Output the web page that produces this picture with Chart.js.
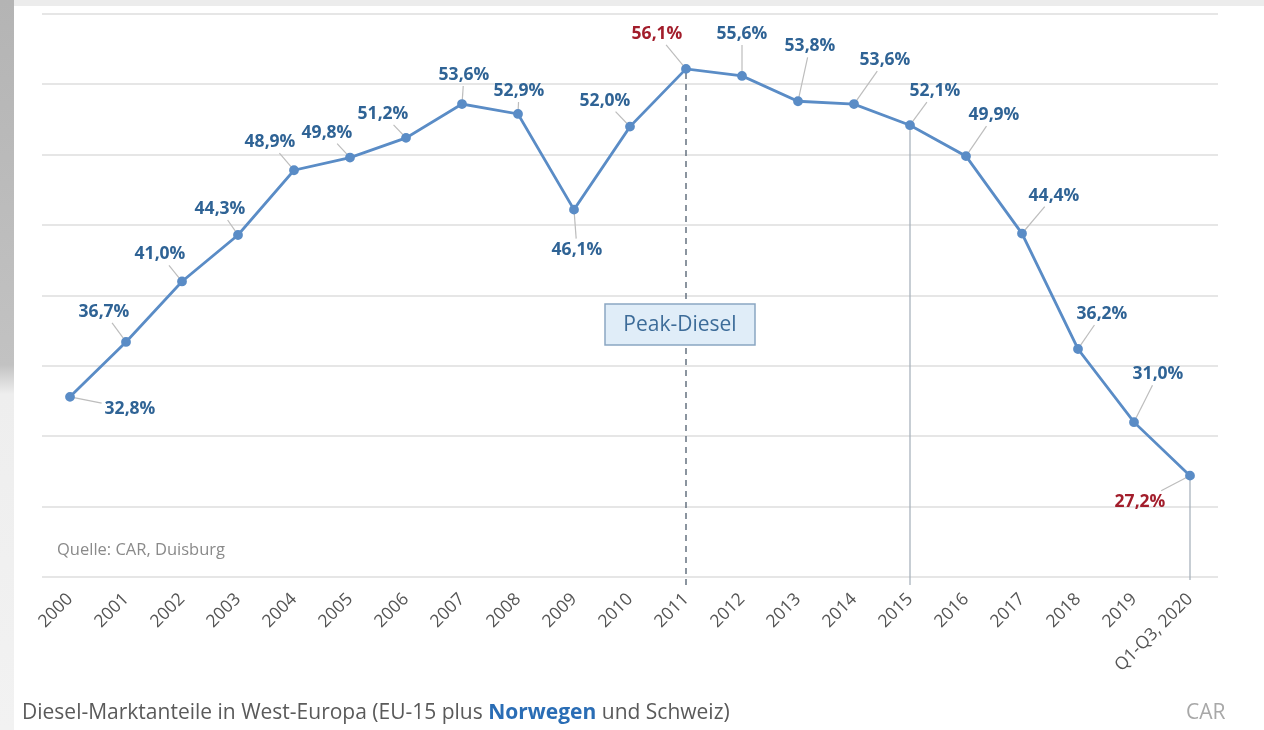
<!DOCTYPE html>
<html>
<head>
<meta charset="utf-8">
<script src="https://cdn.jsdelivr.net/npm/chart.js@4.4.1/dist/chart.umd.min.js"></script>
<style>
  html, body { margin: 0; padding: 0; background: #fff; }
  body { width: 1264px; height: 730px; position: relative; overflow: hidden; font-family: "Open Sans", sans-serif; }
  #frameTop { position: absolute; left: 0; top: 0; width: 1264px; height: 6px; background: #ececec; }
  #frameLeft { position: absolute; left: 0; top: 0; width: 14px; height: 730px;
    background: linear-gradient(to bottom, #b4b4b4 0%, #c2c2c2 50%, #eeeeee 54%, #f2f2f2 100%); }
  #wrap { position: absolute; left: 0; top: 0; width: 1264px; height: 730px; }
  .quelle { position: absolute; left: 57px; top: 537px; font-size: 16.5px; color: #8a8a8a; }
  .caption { position: absolute; left: 22px; top: 697px; font-size: 21px; color: #5a5a5a; white-space: nowrap; }
  .caption b { color: #2a6db5; font-weight: 700; }
  .car { position: absolute; left: 1186px; top: 697px; font-size: 21px; color: #a8a8a8; }
</style>
</head>
<body>
<div id="frameTop"></div>
<div id="frameLeft"></div>
<div id="wrap"><canvas id="diesel"></canvas></div>
<div class="quelle">Quelle: CAR, Duisburg</div>
<div class="caption">Diesel-Marktanteile in West-Europa (EU-15 plus <b>Norwegen</b> und Schweiz)</div>
<div class="car">CAR</div>

<script>
// Daten
const years = ['2000', '2001', '2002', '2003', '2004', '2005', '2006', '2007', '2008', '2009', '2010',
  '2011', '2012', '2013', '2014', '2015', '2016', '2017', '2018', '2019', 'Q1-Q3, 2020'];
const dieselShare = [32.8, 36.7, 41.0, 44.3, 48.9, 49.8, 51.2, 53.6, 52.9, 46.1, 52.0,
  56.1, 55.6, 53.8, 53.6, 52.1, 49.9, 44.4, 36.2, 31.0, 27.2];
const yTicks = [20, 25, 30, 35, 40, 45, 50, 55, 60];

// Beschriftung (Layout)
const redLabels = [11, 20];
const labelOffsets = [
  [60, 12], [-22, -30], [-22, -27], [-18, -26], [-24, -28], [-23, -25], [-23, -24],
  [2, -29], [1, -23], [3, 40], [-25, -26], [-29, -35], [0, -42], [12, -55], [31, -44],
  [25, -34], [28, -41], [32, -38], [24, -35], [24, -48], [-50, 26]
];

const fmt = v => v.toFixed(1).replace('.', ',') + '%';

const annotations = {
  id: 'annotations',
  beforeDatasetsDraw(chart) {
    const ctx = chart.ctx;
    const meta = chart.getDatasetMeta(0);
    const bottom = chart.chartArea.bottom;
    ctx.save();
    // Peak-Diesel Linie
    const p11 = meta.data[11];
    ctx.strokeStyle = '#6f7b88';
    ctx.lineWidth = 1.6;
    ctx.setLineDash([6, 5]);
    ctx.beginPath();
    ctx.moveTo(p11.x, p11.y + 4);
    ctx.lineTo(p11.x, bottom + 8);
    ctx.stroke();
    ctx.setLineDash([]);
    ctx.strokeStyle = '#a9b3bd';
    ctx.lineWidth = 1.3;
    [15, 20].forEach(i => {
      const p = meta.data[i];
      ctx.beginPath();
      ctx.moveTo(p.x, p.y + 3);
      ctx.lineTo(p.x, bottom + (i === 20 ? 3 : 8));
      ctx.stroke();
    });
    // Box
    const bx = p11.x - 81, by = 304, bw = 150, bh = 41;
    ctx.fillStyle = '#e0edf8';
    ctx.fillRect(bx, by, bw, bh);
    ctx.strokeStyle = '#8aa6c2';
    ctx.lineWidth = 1.5;
    ctx.strokeRect(bx, by, bw, bh);
    ctx.fillStyle = '#3d6c99';
    ctx.font = '21px "Open Sans"';
    ctx.textAlign = 'center';
    ctx.textBaseline = 'middle';
    ctx.fillText('Peak-Diesel', bx + bw / 2, by + bh / 2 + 1);

    // Werte mit Hinweislinien
    ctx.font = 'bold 17.5px "Open Sans"';
    meta.data.forEach((pt, i) => {
      const [dx, dy] = labelOffsets[i];
      const text = fmt(dieselShare[i]);
      const cx = pt.x + dx, cy = pt.y + dy;
      const hw = ctx.measureText(text).width / 2 + 3, hh = 11;
      const t = Math.min(dx ? hw / Math.abs(dx) : 1, dy ? hh / Math.abs(dy) : 1);
      const ex = cx - dx * t, ey = cy - dy * t;
      const len = Math.hypot(dx, dy);
      const sx = pt.x + dx / len * 4, sy = pt.y + dy / len * 4;
      if (Math.hypot(ex - sx, ey - sy) > 3) {
        ctx.strokeStyle = '#bdbdbd';
        ctx.lineWidth = 1.2;
        ctx.beginPath();
        ctx.moveTo(sx, sy);
        ctx.lineTo(ex, ey);
        ctx.stroke();
      }
      ctx.fillStyle = redLabels.includes(i) ? '#a21d2b' : '#2f6395';
      ctx.fillText(text, cx, cy);
    });
    ctx.restore();
  }
};

new Chart(document.getElementById('diesel'), {
  type: 'line',
  data: {
    labels: years,
    datasets: [{
      data: dieselShare,
      borderColor: '#5a8cc6',
      backgroundColor: '#5a8cc6',
      borderWidth: 2.8,
      pointRadius: 3.5,
      pointHoverRadius: 3.5,
      tension: 0
    }]
  },
  options: {
    responsive: true,
    maintainAspectRatio: false,
    animation: false,
    layout: { padding: { left: 0, right: 46, top: 14, bottom: 0 } },
    plugins: { legend: { display: false }, tooltip: { enabled: false } },
    scales: {
      x: {
        offset: true,
        grid: { display: false, drawTicks: false },
        border: { display: false },
        afterFit: axis => { axis.height = 153; },
        ticks: {
          autoSkip: false, minRotation: 45, maxRotation: 45, padding: 12,
          color: '#555', font: { family: 'Open Sans', size: 17.5 }
        }
      },
      y: {
        min: 20, max: 60,
        afterFit: axis => { axis.width = 42; },
        afterBuildTicks: axis => { axis.ticks = yTicks.map(v => ({ value: v })); },
        grid: { color: '#e6e6e6', lineWidth: 2, drawTicks: false },
        border: { display: false },
        ticks: { display: false }
      }
    }
  },
  plugins: [annotations]
});
</script>
</body>
</html>
